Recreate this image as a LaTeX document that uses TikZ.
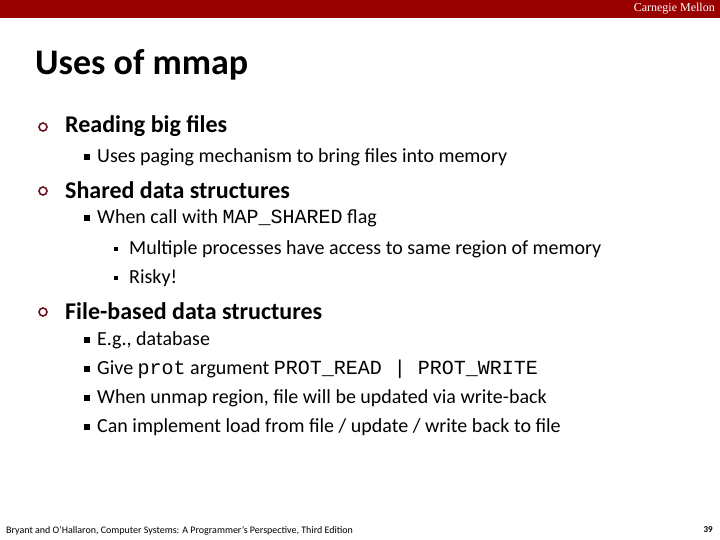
\documentclass[tikz,border=0pt]{standalone}
\usepackage{fontspec}
\setmainfont{Carlito}
\setmonofont{Liberation Mono}
\newfontfamily\hdr{Liberation Serif}
\definecolor{cmured}{HTML}{990000}
\definecolor{bulred}{HTML}{6B0E1E}
\begin{document}
\begin{tikzpicture}[x=1pt,y=-1pt,
  lone/.style={anchor=west,font=\fontsize{24}{28}\selectfont\bfseries,inner sep=0},
  ltwo/.style={anchor=west,font=\fontsize{20}{24}\selectfont,inner sep=0},
  lthree/.style={anchor=west,font=\fontsize{20}{24}\selectfont,inner sep=0},
  bone/.style={circle,draw=bulred,line width=1.6pt,minimum size=8pt,inner sep=0},
  btwo/.style={fill=black,minimum size=6pt,inner sep=0},
  bthree/.style={fill=black,minimum size=4.5pt,inner sep=0}]
\useasboundingbox (0,0) rectangle (720,540);
\fill[cmured] (0,0) rectangle (720,18);
\node[anchor=east,text=white,font=\hdr\fontsize{12}{14}\selectfont,inner sep=0] (hd) at (715,9) {Carnegie Mellon};
\node[anchor=west,font=\fontsize{36}{40}\selectfont\bfseries,inner sep=0] (title) at (35,65) {Uses of mmap};
\node[bone] (b1) at (43,127) {};
\node[lone] (t1) at (65,126) {Reading big files};
\node[btwo] (b11) at (87,157) {};
\node[ltwo] (t11) at (97,157) {Uses paging mechanism to bring files into memory};
\node[bone] (b2) at (43,191) {};
\node[lone] (t2) at (65,190) {Shared data structures};
\node[btwo] (b21) at (87,218) {};
\node[ltwo] (t21) at (97,218) {When call with \texttt{MAP\_SHARED} flag};
\node[bthree] (b211) at (116,249) {};
\node[lthree] (t211) at (129,249) {Multiple processes have access to same region of memory};
\node[bthree] (b212) at (116,278) {};
\node[lthree] (t212) at (129,278) {Risky!};
\node[bone] (b3) at (43,312) {};
\node[lone] (t3) at (65,311) {File-based data structures};
\node[btwo] (b31) at (87,340) {};
\node[ltwo] (t31) at (97,340) {E.g., database};
\node[btwo] (b32) at (87,369) {};
\node[ltwo] (t32) at (97,369) {Give \texttt{prot} argument \texttt{PROT\_READ | PROT\_WRITE}};
\node[btwo] (b33) at (87,398) {};
\node[ltwo] (t33) at (97,398) {When unmap region, file will be updated via write-back};
\node[btwo] (b34) at (87,427) {};
\node[ltwo] (t34) at (97,427) {Can implement load from file / update / write back to file};
\node[anchor=west,font=\fontsize{10}{11}\selectfont,inner sep=0] (ft) at (6,531) {Bryant and O’Hallaron, Computer Systems: A Programmer’s Perspective, Third Edition};
\node[anchor=east,font=\fontsize{9}{10}\selectfont\bfseries,inner sep=0] (pg) at (713,530) {39};
\end{tikzpicture}
\end{document}
